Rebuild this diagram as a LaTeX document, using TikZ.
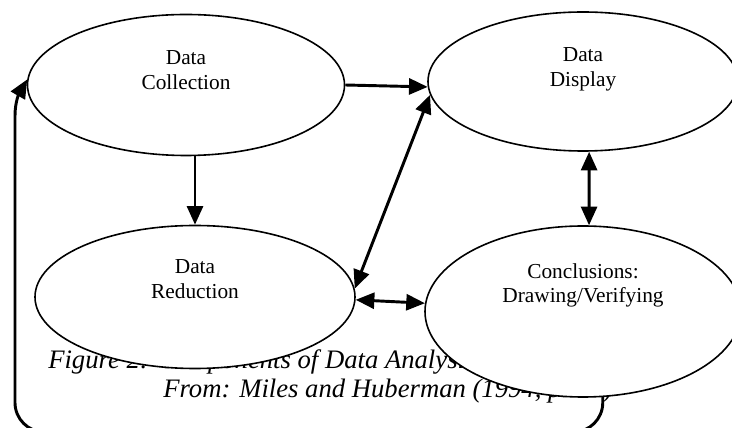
\documentclass[tikz,border=0pt]{standalone}
\usepackage{fontspec}
\setmainfont{Liberation Serif}
\usetikzlibrary{shapes.geometric,arrows.meta,calc}

\begin{document}
\begin{tikzpicture}[x=0.75pt,y=0.75pt,
  blob/.style={shape=ellipse,draw,fill=white,line width=1.2pt,inner sep=0pt},
  lbl/.style={align=center,inner sep=0pt,font=\fontsize{16}{18.5}\selectfont},
  figline/.style={anchor=base west,inner sep=0pt,font=\fontsize{20}{24}\selectfont\itshape},
  arr/.style={-{Triangle[length=14pt,width=12pt]},line width=2.2pt},
  back/.style={{Triangle[length=14pt,width=12pt]}-,line width=2.2pt},
  dbl/.style={{Triangle[length=14pt,width=12pt]}-{Triangle[length=14pt,width=12pt]},line width=2.2pt}]
\useasboundingbox (0,0) rectangle (732,428);
% caption sits under the ellipses
\node[figline] (fig) at (48,59) {Figure 2: Components of Data Analysis};
\node[figline] (src) at (163,30) {From: Miles and Huberman (1994, p. 12)};
\node[blob,minimum width=237.75pt,minimum height=105.75pt] (coll) at (186,343) {};
\node[blob,minimum width=232.5pt,minimum height=104.25pt] (disp) at (583,346.5) {};
\node[blob,minimum width=240pt,minimum height=107.25pt] (red) at (195,131) {};
\node[blob,minimum width=237pt,minimum height=128.25pt] (concl) at (583,116.5) {};
\node[lbl] (colltext) at ($(coll.center)+(0,15)$) {Data\\Collection};
\node[lbl] (disptext) at ($(disp.center)+(0,12)$) {Data\\Display};
\node[lbl] (redtext) at ($(red.center)+(0,18)$) {Data\\Reduction};
\node[lbl] (concltext) at ($(concl.center)+(0,26)$) {Conclusions:\\Drawing/Verifying};
\draw[arr] (coll.east) -- (disp.182);
\draw[arr] (coll.south -| red.north) -- (red.north);
\draw[dbl] (red.3) -- (disp.185);
\draw[dbl] (red.-1) -- (concl.177);
\draw[dbl] (disp.-85) -- (concl.86);
% feedback loop, drawn from its arrow end
\draw[back] (coll.178) to[out=240,in=90] (15,312) [rounded corners=22pt] -- (15,-4) -| (concl.-77);
\end{tikzpicture}
\end{document}
